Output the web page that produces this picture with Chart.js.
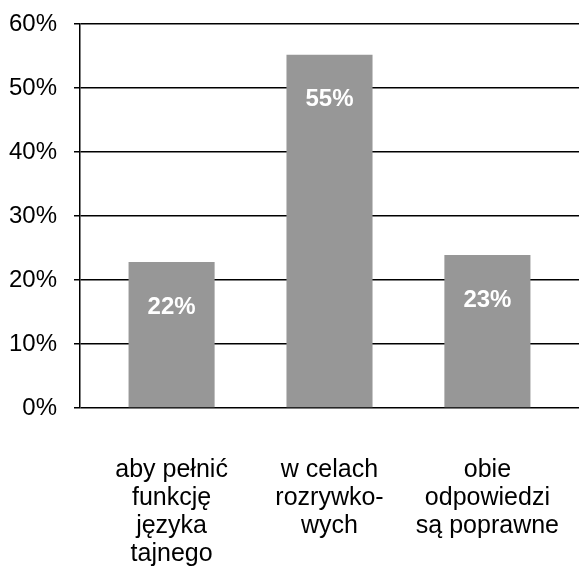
<!DOCTYPE html>
<html>
<head>
<meta charset="utf-8">
<script src="https://cdn.jsdelivr.net/npm/chart.js@4"></script>
<style>
    html, body { margin: 0; padding: 0; background: #fff; }
    #wrap { width: 579px; height: 568px; }
</style>
</head>
<body>
<div id="wrap"><canvas id="chart" width="579" height="568"></canvas></div>
<script>
const categories = [
    ['aby pełnić', 'funkcję', 'języka', 'tajnego'],
    ['w celach', 'rozrywko-', 'wych'],
    ['obie', 'odpowiedzi', 'są poprawne']
];
const values = [22.8, 55.2, 23.9];
const valueLabels = ['22%', '55%', '23%'];
const yTicks = [0, 10, 20, 30, 40, 50, 60];

const FONT = '"Liberation Sans", Arial, sans-serif';

// white percentage text inside each bar
const barLabels = {
    id: 'barLabels',
    afterDatasetsDraw(chart) {
        const ctx = chart.ctx;
        const meta = chart.getDatasetMeta(0);
        ctx.save();
        ctx.fillStyle = '#fff';
        ctx.font = 'bold 24px ' + FONT;
        ctx.textAlign = 'center';
        ctx.textBaseline = 'middle';
        meta.data.forEach((bar, i) => {
            ctx.fillText(valueLabels[i], bar.x, bar.y + 45);
        });
        ctx.restore();
    }
};

const ctx = document.getElementById('chart').getContext('2d');
new Chart(ctx, {
    type: 'bar',
    data: {
        datasets: [{
            data: values.map((v, i) => ({ x: i, y: v })),
            backgroundColor: '#979797',
            borderWidth: 0,
            barPercentage: 0.545,
            categoryPercentage: 1
        }]
    },
    options: {
        responsive: false,
        animation: false,
        layout: { padding: { top: 24, right: 0, bottom: 0, left: 0 } },
        plugins: {
            legend: { display: false },
            tooltip: { enabled: false }
        },
        scales: {
            x: {
                type: 'linear',
                offset: false,
                min: -0.58,
                max: 2.58,
                afterBuildTicks: scale => {
                    scale.ticks = categories.map((_, i) => ({ value: i }));
                },
                afterFit: scale => {
                    scale.height = 160;
                    scale.paddingLeft = 0;
                    scale.paddingRight = 0;
                },
                grid: { display: false },
                border: { display: false },
                ticks: {
                    autoSkip: false,
                    maxRotation: 0,
                    padding: 40,
                    color: '#000',
                    font: { family: FONT, size: 25, lineHeight: 1.12 },
                    callback: value => categories[value]
                }
            },
            y: {
                min: 0,
                max: 60,
                afterBuildTicks: scale => {
                    scale.ticks = yTicks.map(v => ({ value: v }));
                },
                afterFit: scale => {
                    scale.width = 80;
                    scale.paddingTop = 0;
                    scale.paddingBottom = 0;
                },
                grid: { color: '#000', lineWidth: 1.5, tickLength: 6 },
                border: { color: '#000', width: 1.5 },
                ticks: {
                    padding: 17,
                    color: '#000',
                    font: { family: FONT, size: 24 },
                    callback: v => v + '%'
                }
            }
        }
    },
    plugins: [barLabels]
});
</script>
</body>
</html>
